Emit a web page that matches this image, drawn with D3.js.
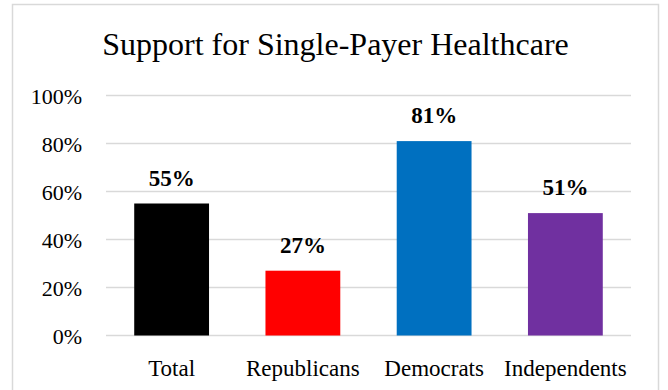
<!DOCTYPE html>
<html>
<head>
<meta charset="utf-8">
<script src="https://cdn.jsdelivr.net/npm/d3@7"></script>
<style>
  html, body { margin: 0; padding: 0; background: #fff; }
  svg { display: block; }
</style>
</head>
<body>
<svg id="chart" width="668" height="390"></svg>
<script>
const categories = ["Total", "Republicans", "Democrats", "Independents"];
const values = [55, 27, 81, 51];
const barColors = ["#000000", "#ff0000", "#0070c0", "#7030a0"];
const tickValues = [0, 20, 40, 60, 80, 100];
const title = "Support for Single-Payer Healthcare";

const svg = d3.select("#chart");
const font = "'Liberation Serif', 'Times New Roman', serif";

// chart frame
svg.append("rect")
  .attr("x", 12.5).attr("y", 4.5)
  .attr("width", 646).attr("height", 392)
  .attr("fill", "#fff")
  .attr("stroke", "#d9d9d9").attr("stroke-width", 1.5);

svg.append("text")
  .attr("x", 335.5).attr("y", 55)
  .attr("text-anchor", "middle")
  .attr("font-family", font)
  .attr("font-size", 32)
  .attr("fill", "#000")
  .text(title);

const plot = { left: 106, right: 631, top: 95.5, bottom: 335.5 };

const x = d3.scaleBand()
  .domain(categories)
  .range([plot.left, plot.right])
  .paddingInner(0.43)
  .paddingOuter(0.215);

const y = d3.scaleLinear()
  .domain([0, 100])
  .range([plot.bottom, plot.top]);

// gridlines
svg.append("g")
  .selectAll("line")
  .data(tickValues)
  .join("line")
  .attr("x1", plot.left).attr("x2", plot.right)
  .attr("y1", d => y(d)).attr("y2", d => y(d))
  .attr("stroke", "#d9d9d9").attr("stroke-width", 1.5);

// y axis labels
const yAxis = d3.axisLeft(y)
  .tickValues(tickValues)
  .tickFormat(d => d + "%")
  .tickSize(0)
  .tickPadding(0);
const yg = svg.append("g")
  .attr("transform", `translate(82,0)`)
  .call(yAxis);
yg.select(".domain").remove();
yg.selectAll("text")
  .attr("font-family", font)
  .attr("font-size", 22)
  .attr("dy", "0.36em")
  .attr("fill", "#000");

// bars
svg.append("g")
  .selectAll("rect")
  .data(values)
  .join("rect")
  .attr("x", (d, i) => x(categories[i]))
  .attr("y", d => y(d))
  .attr("width", x.bandwidth())
  .attr("height", d => y(0) - y(d))
  .attr("fill", (d, i) => barColors[i]);

// value labels
svg.append("g")
  .selectAll("text")
  .data(values)
  .join("text")
  .attr("x", (d, i) => x(categories[i]) + x.bandwidth() / 2)
  .attr("y", d => y(d) - 18)
  .attr("text-anchor", "middle")
  .attr("font-family", font)
  .attr("font-size", 23)
  .attr("font-weight", "bold")
  .attr("fill", "#000")
  .text(d => d + "%");

// x axis labels
const xAxis = d3.axisBottom(x).tickSize(0).tickPadding(0);
const xg = svg.append("g")
  .attr("transform", `translate(0,${plot.bottom})`)
  .call(xAxis);
xg.select(".domain").remove();
xg.selectAll("text")
  .attr("font-family", font)
  .attr("font-size", 23)
  .attr("y", 40)
  .attr("dy", 0)
  .attr("fill", "#000");
</script>
</body>
</html>
